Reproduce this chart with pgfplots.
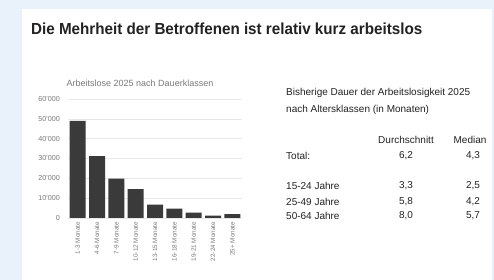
\documentclass[border=0pt]{standalone}
\usepackage{fontspec}
\setmainfont{Liberation Sans}
\newfontfamily\nf{Liberation Sans}
\newfontfamily\tf[FakeStretch=0.95]{Liberation Sans}
\usepackage{pgfplots}
\pgfplotsset{compat=1.18}
\definecolor{bgblue}{HTML}{E9F1FB}
\definecolor{barcol}{HTML}{3A3A3A}
\definecolor{lbl}{HTML}{7A7A7A}
\definecolor{txt}{HTML}{222222}
\begin{document}
\begin{tikzpicture}[x=1pt,y=1pt]
\path[use as bounding box] (0,0) rectangle (494,280);
\fill[bgblue] (0,0) rectangle (494,280);
\fill[white] (22,0) rectangle (492,271);
\node[anchor=west,inner sep=0pt,text=txt] at (31,251) {\tf\fontsize{16}{16}\selectfont\bfseries Die Mehrheit der Betroffenen ist relativ kurz arbeitslos};
\node[inner sep=0pt,text=lbl] at (140,197) {\nf\fontsize{9}{9}\selectfont Arbeitslose 2025 nach Dauerklassen};
\begin{axis}[at={(68pt,62pt)}, anchor=south west, scale only axis,
  width=174pt, height=119pt,
  xmin=-0.5, xmax=8.5, ymin=0, ymax=60000,
  scaled y ticks=false,
  ytick={0,10000,20000,30000,40000,50000,60000},
  yticklabels={0,10'000,20'000,30'000,40'000,50'000,60'000},
  xtick={0,...,8},
  xticklabels={1-3 Monate,4-6 Monate,7-9 Monate,10-12 Monate,13-15 Monate,16-18 Monate,19-21 Monate,22-24 Monate,25+ Monate},
  x tick label style={rotate=90, anchor=east, font=\nf\fontsize{6.3}{6.3}\selectfont, text=lbl, inner sep=1pt},
  y tick label style={font=\nf\fontsize{7.2}{7.2}\selectfont, text=lbl, inner sep=1pt},
  xticklabel shift=3pt, yticklabel shift=7pt,
  ymajorgrids, grid style={draw=gray!18, line width=0.6pt},
  axis line style={draw=none}, major tick length=0pt,
  ybar, bar width=16pt, clip=false]
\addplot[fill=barcol, draw=none] coordinates {(0,49000) (1,31200) (2,19900) (3,14500) (4,6800) (5,4700) (6,2700) (7,1200) (8,2000)};
\end{axis}
\begin{scope}[every node/.style={inner sep=0pt,text=txt,font=\nf\fontsize{10}{10}\selectfont}]
\node[anchor=west] at (286,187) {Bisherige Dauer der Arbeitslosigkeit 2025};
\node[anchor=west] at (286,170) {nach Altersklassen (in Monaten)};
\node at (406,140) {Durchschnitt};
\node at (470,140) {Median};
\node[anchor=west] at (286,124) {Total:};
\node at (406,124) {6,2};
\node at (473,124) {4,3};
\node[anchor=west] at (286,94) {15-24 Jahre};
\node at (406,94) {3,3};
\node at (473,94) {2,5};
\node[anchor=west] at (286,78) {25-49 Jahre};
\node at (406,78) {5,8};
\node at (473,78) {4,2};
\node[anchor=west] at (286,64) {50-64 Jahre};
\node at (406,64) {8,0};
\node at (473,64) {5,7};
\end{scope}
\end{tikzpicture}
\end{document}
